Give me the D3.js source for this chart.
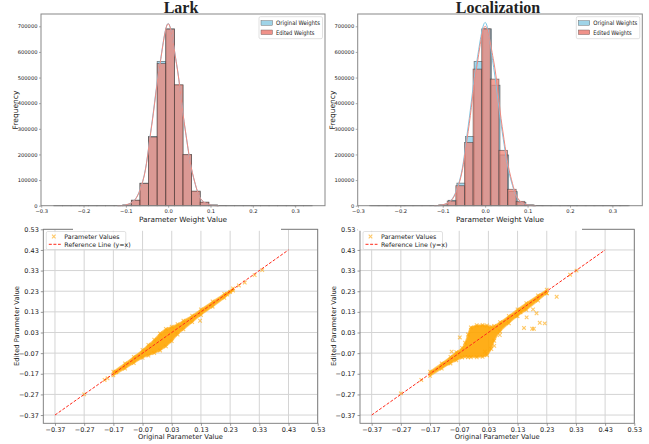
<!DOCTYPE html>
<html>
<meta charset="utf-8">
<style>
  body { margin: 0; background: #fff; }
  text { font-family: "DejaVu Sans", sans-serif; fill: #222; }
</style>
<body>
<svg width="649" height="444"></svg>
<script src="https://d3js.org/d3.v7.min.js"></script>
<script>
// ---- histogram data (30 bins between histMin and histMax) ----
const histMin = -0.27, histMax = 0.34, nBins = 30
const locEditShift = -0.0025   // edited bins in Localization sit a bit left
const originalCounts = [20,20,30,30,40,60,100,200,2500,21000,88000,270000,563000,690000,470000,198000,55000,13000,2500,400,150,80,50,30,20,20,10,10,10,10]
const larkEditedCounts = [20,20,30,30,40,60,100,200,2600,21500,87000,268000,555000,689000,472000,200000,57000,14000,2600,400,150,80,50,30,20,20,10,10,10,10]
const locEditedCounts = [20,20,30,30,40,60,100,200,2800,18000,78000,247000,533000,690000,494000,216000,64000,17000,3000,400,150,80,50,30,20,20,10,10,10,10]

// kde curves
const kdeX = [-0.12,-0.1,-0.08,-0.06,-0.04,-0.02,0,0.02,0.04,0.06,0.08,0.1,0.12]
const larkOrigKde = [0,3000,21000,97000,305000,550000,711000,552000,298000,108000,20000,3000,0]
const larkEditKde = [0,3000,20000,95000,300000,545000,710000,550000,300000,110000,20000,3000,0]
const locOrigKde = [0,3000,22000,100000,310000,560000,715000,540000,290000,105000,20000,3000,0]
const locEditKde = [0,3500,20000,95000,290000,540000,700000,565000,310000,115000,22000,3000,0]

const histXTicks = [-0.3,-0.2,-0.1,0,0.1,0.2,0.3]
const histYTicks = [0,100000,200000,300000,400000,500000,600000,700000]

// ---- scatter data ----
const scatterTicks = [-0.37,-0.27,-0.17,-0.07,0.03,0.13,0.23,0.33,0.43,0.53]
const refLine = [-0.37, 0.43]
// dense cloud envelope: original value, lowest and highest edited value
const larkBandX = [-0.17,-0.13,-0.1,-0.07,-0.05,-0.03,-0.01,0.01,0.03,0.05,0.07,0.1,0.13,0.17,0.21,0.24]
const larkBandLow = [-0.178,-0.145,-0.118,-0.093,-0.082,-0.07,-0.057,-0.037,-0.012,0.02,0.045,0.08,0.115,0.155,0.198,0.233]
const larkBandHigh = [-0.16,-0.12,-0.088,-0.055,-0.03,-0.005,0.025,0.047,0.058,0.07,0.087,0.112,0.142,0.18,0.217,0.243]
const larkOutX = [0.127,0.26,0.28,0.314,0.34,-0.27,-0.2,-0.19,-0.16,0.22,0.23]
const larkOutY = [0.087,0.258,0.272,0.308,0.332,-0.27,-0.2,-0.192,-0.163,0.214,0.226]

const locBandX = [-0.17,-0.13,-0.1,-0.08,-0.06,-0.05,-0.04,-0.03,-0.01,0.01,0.025,0.04,0.05,0.07,0.1,0.13,0.16,0.2,0.23]
const locBandLow = [-0.18,-0.145,-0.12,-0.105,-0.092,-0.088,-0.09,-0.09,-0.09,-0.088,-0.08,-0.05,-0.01,0.035,0.075,0.11,0.14,0.185,0.22]
const locBandHigh = [-0.16,-0.12,-0.088,-0.065,-0.045,-0.02,0.02,0.055,0.065,0.066,0.064,0.058,0.062,0.08,0.11,0.142,0.172,0.21,0.237]
const locOutX = [0.195,0.206,0.223,0.186,0.152,0.161,0.264,0.183,0.18,-0.068,0.069,0.127,-0.096,0.018,0.31,0.332,-0.27,-0.2,0.23,-0.075,0.05,0.14]
const locOutY = [0.123,0.077,0.074,0.048,0.052,0.103,0.203,0.142,0.048,0.006,0.018,0.11,-0.063,-0.063,0.31,0.33,-0.265,-0.2,0.22,-0.075,-0.035,0.128]

const svg = d3.select('svg')
const fmt = v => d3.format('.1f')(v).replace('-', '\u2212')
const fmt2 = v => d3.format('.2f')(v).replace('-', '\u2212')

function drawHist(opt) {
  const x = d3.scaleLinear([-0.3005, 0.3705], [opt.left, opt.right])
  const y = d3.scaleLinear([0, 748000], [205.7, 14])
  const g = svg.append('g')
  const w = (histMax - histMin) / nBins

  const bars = (counts, shift, fill, op) => {
    g.append('g').selectAll('rect').data(counts).join('rect')
      .attr('x', (d, i) => x(histMin + i * w + shift))
      .attr('width', (d, i) => x(histMin + (i + 1) * w + shift) - x(histMin + i * w + shift))
      .attr('y', d => y(d))
      .attr('height', d => y(0) - y(d))
      .attr('fill', fill).attr('fill-opacity', op)
      .attr('stroke', '#333').attr('stroke-opacity', 0.6).attr('stroke-width', 0.8)
  }
  bars(originalCounts, 0, '#87CEEB', 0.75)
  bars(opt.edited, opt.shift, '#F08070', 0.72)

  const line = d3.line().x((d, i) => x(kdeX[i])).y(d => y(d)).curve(d3.curveCatmullRom)
  g.append('path').attr('d', line(opt.origKde)).attr('fill', 'none')
    .attr('stroke', '#7cc6e4').attr('stroke-width', 1)
  g.append('path').attr('d', line(opt.editKde)).attr('fill', 'none')
    .attr('stroke', '#f08a80').attr('stroke-width', 1)

  // axes
  const ax = g.append('g').attr('transform', 'translate(0,205.7)')
    .call(d3.axisBottom(x).tickValues(histXTicks).tickFormat(fmt).tickSize(2).tickPadding(1.2))
  const ay = g.append('g').attr('transform', `translate(${opt.left},0)`)
    .call(d3.axisLeft(y).tickValues(histYTicks).tickFormat(d3.format('d')).tickSize(2).tickPadding(1.5))
  ;[ax, ay].forEach(a => {
    a.select('.domain').remove()
    a.selectAll('text').style('font-size', '5.2px').attr('fill', '#333')
    a.selectAll('line').attr('stroke', '#555').attr('stroke-width', 0.5)
  })
  g.append('rect').attr('x', opt.left).attr('y', 14).attr('width', opt.right - opt.left)
    .attr('height', 205.7 - 14).attr('fill', 'none').attr('stroke', '#888').attr('stroke-width', 1)

  g.append('text').attr('x', (opt.left + opt.right) / 2 - 2).attr('y', 13)
    .attr('text-anchor', 'middle')
    .style('font-family', '"Liberation Serif", serif').style('font-weight', 'bold').style('font-size', '16px')
    .attr('fill', '#000').text(opt.title)
  g.append('text').attr('transform', `translate(${opt.left - 23},110) rotate(-90)`)
    .attr('text-anchor', 'middle').style('font-size', '7.5px').text('Frequency')

  // legend
  const lg = g.append('g').attr('transform', `translate(${opt.right - 66},16.7)`)
  lg.append('rect').attr('width', 63.5).attr('height', 22).attr('rx', 1.5)
    .attr('fill', '#fff').attr('fill-opacity', 0.85).attr('stroke', '#ccc').attr('stroke-width', 0.6)
  const items = [['Original Weights', '#9fd4e8', 44], ['Edited Weights', '#f0928a', 38.5]]
  items.forEach((it, i) => {
    lg.append('rect').attr('x', 2).attr('y', 4 + i * 9.3).attr('width', 11.5).attr('height', 4.6)
      .attr('fill', it[1]).attr('stroke', '#555').attr('stroke-width', 0.4)
    lg.append('text').attr('x', 17).attr('y', 8.6 + i * 9.3).style('font-size', '6.2px')
      .attr('textLength', it[2]).attr('lengthAdjust', 'spacingAndGlyphs')
      .attr('fill', '#333').text(it[0])
  })
}

function xMark(sel, size) {
  return sel.attr('d', `M${-size},${-size}L${size},${size}M${-size},${size}L${size},${-size}`)
}

function drawScatter(opt) {
  const x = d3.scaleLinear([-0.41, 0.53], [opt.left, opt.right])
  const y = d3.scaleLinear([-0.41, 0.53], [423.3, 229.3])
  const g = svg.append('g')

  // grid
  g.append('g').selectAll('line').data(scatterTicks).join('line')
    .attr('x1', d => x(d)).attr('x2', d => x(d)).attr('y1', 229.3).attr('y2', 423.3)
    .attr('stroke', '#d4d4d4').attr('stroke-width', 1)
  g.append('g').selectAll('line').data(scatterTicks).join('line')
    .attr('y1', d => y(d)).attr('y2', d => y(d)).attr('x1', opt.left).attr('x2', opt.right)
    .attr('stroke', '#d4d4d4').attr('stroke-width', 1)

  // dense cloud
  const area = d3.area().x((d, i) => x(opt.bandX[i]))
    .y0((d, i) => y(opt.bandLow[i])).y1((d, i) => y(opt.bandHigh[i])).curve(d3.curveCatmullRom)
  g.append('path').attr('d', area(opt.bandX)).attr('fill', '#FFA500').attr('fill-opacity', 0.9)
    .attr('stroke', '#FFB733').attr('stroke-width', 1.5).attr('stroke-opacity', 0.7)

  // edge points and outliers
  const pts = []
  opt.bandX.forEach((v, i) => { pts.push([v, opt.bandLow[i]]); pts.push([v, opt.bandHigh[i]]) })
  opt.outX.forEach((v, i) => pts.push([v, opt.outY[i]]))
  g.append('g').selectAll('path').data(pts).join('path')
    .attr('transform', d => `translate(${x(d[0])},${y(d[1])})`)
    .call(xMark, 1.8)
    .attr('stroke', '#FFA500').attr('stroke-opacity', 0.6).attr('stroke-width', 1.1).attr('fill', 'none')

  // y = x reference line
  g.append('line').attr('x1', x(refLine[0])).attr('y1', y(refLine[0]))
    .attr('x2', x(refLine[1])).attr('y2', y(refLine[1]))
    .attr('stroke', '#ff2a1a').attr('stroke-width', 1).attr('stroke-dasharray', '3,1.6')

  // axes
  const ax = g.append('g').attr('transform', 'translate(0,423.3)')
    .call(d3.axisBottom(x).tickValues(scatterTicks).tickFormat(fmt2).tickSize(2.5).tickPadding(2))
  const ay = g.append('g').attr('transform', `translate(${opt.left},0)`)
    .call(d3.axisLeft(y).tickValues(scatterTicks).tickFormat(fmt2).tickSize(2.5).tickPadding(2))
  ;[ax, ay].forEach(a => {
    a.select('.domain').remove()
    a.selectAll('text').style('font-size', '6.5px').attr('fill', '#333')
    a.selectAll('line').attr('stroke', '#555').attr('stroke-width', 0.6)
  })
  g.append('rect').attr('x', opt.left).attr('y', 229.3).attr('width', opt.right - opt.left)
    .attr('height', 423.3 - 229.3).attr('fill', 'none').attr('stroke', '#777').attr('stroke-width', 0.9)

  g.append('text').attr('x', (opt.left + opt.right) / 2).attr('y', 439)
    .attr('text-anchor', 'middle').style('font-size', '6.8px').text('Original Parameter Value')
  g.append('text').attr('transform', `translate(${opt.left - 24},326) rotate(-90)`)
    .attr('text-anchor', 'middle').style('font-size', '6.8px').text('Edited Parameter Value')

  // legend
  const lg = g.append('g').attr('transform', `translate(${opt.left + 3},231.5)`)
  lg.append('rect').attr('width', 79.5).attr('height', 18).attr('rx', 1.5)
    .attr('fill', '#fff').attr('fill-opacity', 0.85).attr('stroke', '#ccc').attr('stroke-width', 0.6)
  lg.append('path').attr('transform', 'translate(7.5,5)').call(xMark, 1.8)
    .attr('stroke', '#FFA500').attr('stroke-opacity', 0.6).attr('stroke-width', 1.1)
  lg.append('line').attr('x1', 2.5).attr('x2', 14.5).attr('y1', 12.8).attr('y2', 12.8)
    .attr('stroke', '#ff2a1a').attr('stroke-width', 1).attr('stroke-dasharray', '3,1.6')
  lg.append('text').attr('x', 18).attr('y', 7.2).style('font-size', '6.3px').attr('fill', '#333').text('Parameter Values')
  lg.append('text').attr('x', 18).attr('y', 15).style('font-size', '6.3px').attr('fill', '#333').text('Reference Line (y=x)')

  // the upper panel's label sits over the top edge of this panel
  svg.append('rect').attr('x', opt.coverFrom).attr('y', 214.5).attr('width', opt.coverTo - opt.coverFrom)
    .attr('height', 16.3).attr('fill', '#fff')
  svg.append('text').attr('x', opt.labelX).attr('y', 222)
    .attr('text-anchor', 'middle').style('font-size', '7.3px').text('Parameter Weight Value')
}

drawHist({ left: 41, right: 325, title: 'Lark', edited: larkEditedCounts, shift: 0,
  origKde: larkOrigKde, editKde: larkEditKde })
drawHist({ left: 357.7, right: 642.3, title: 'Localization', edited: locEditedCounts, shift: locEditShift,
  origKde: locOrigKde, editKde: locEditKde })

drawScatter({ left: 43.3, right: 317.7, bandX: larkBandX, bandLow: larkBandLow, bandHigh: larkBandHigh,
  outX: larkOutX, outY: larkOutY, coverFrom: 73, coverTo: 281, labelX: 183 })
drawScatter({ left: 360, right: 634.3, bandX: locBandX, bandLow: locBandLow, bandHigh: locBandHigh,
  outX: locOutX, outY: locOutY, coverFrom: 358, coverTo: 582, labelX: 500 })
</script>
</body>
</html>
